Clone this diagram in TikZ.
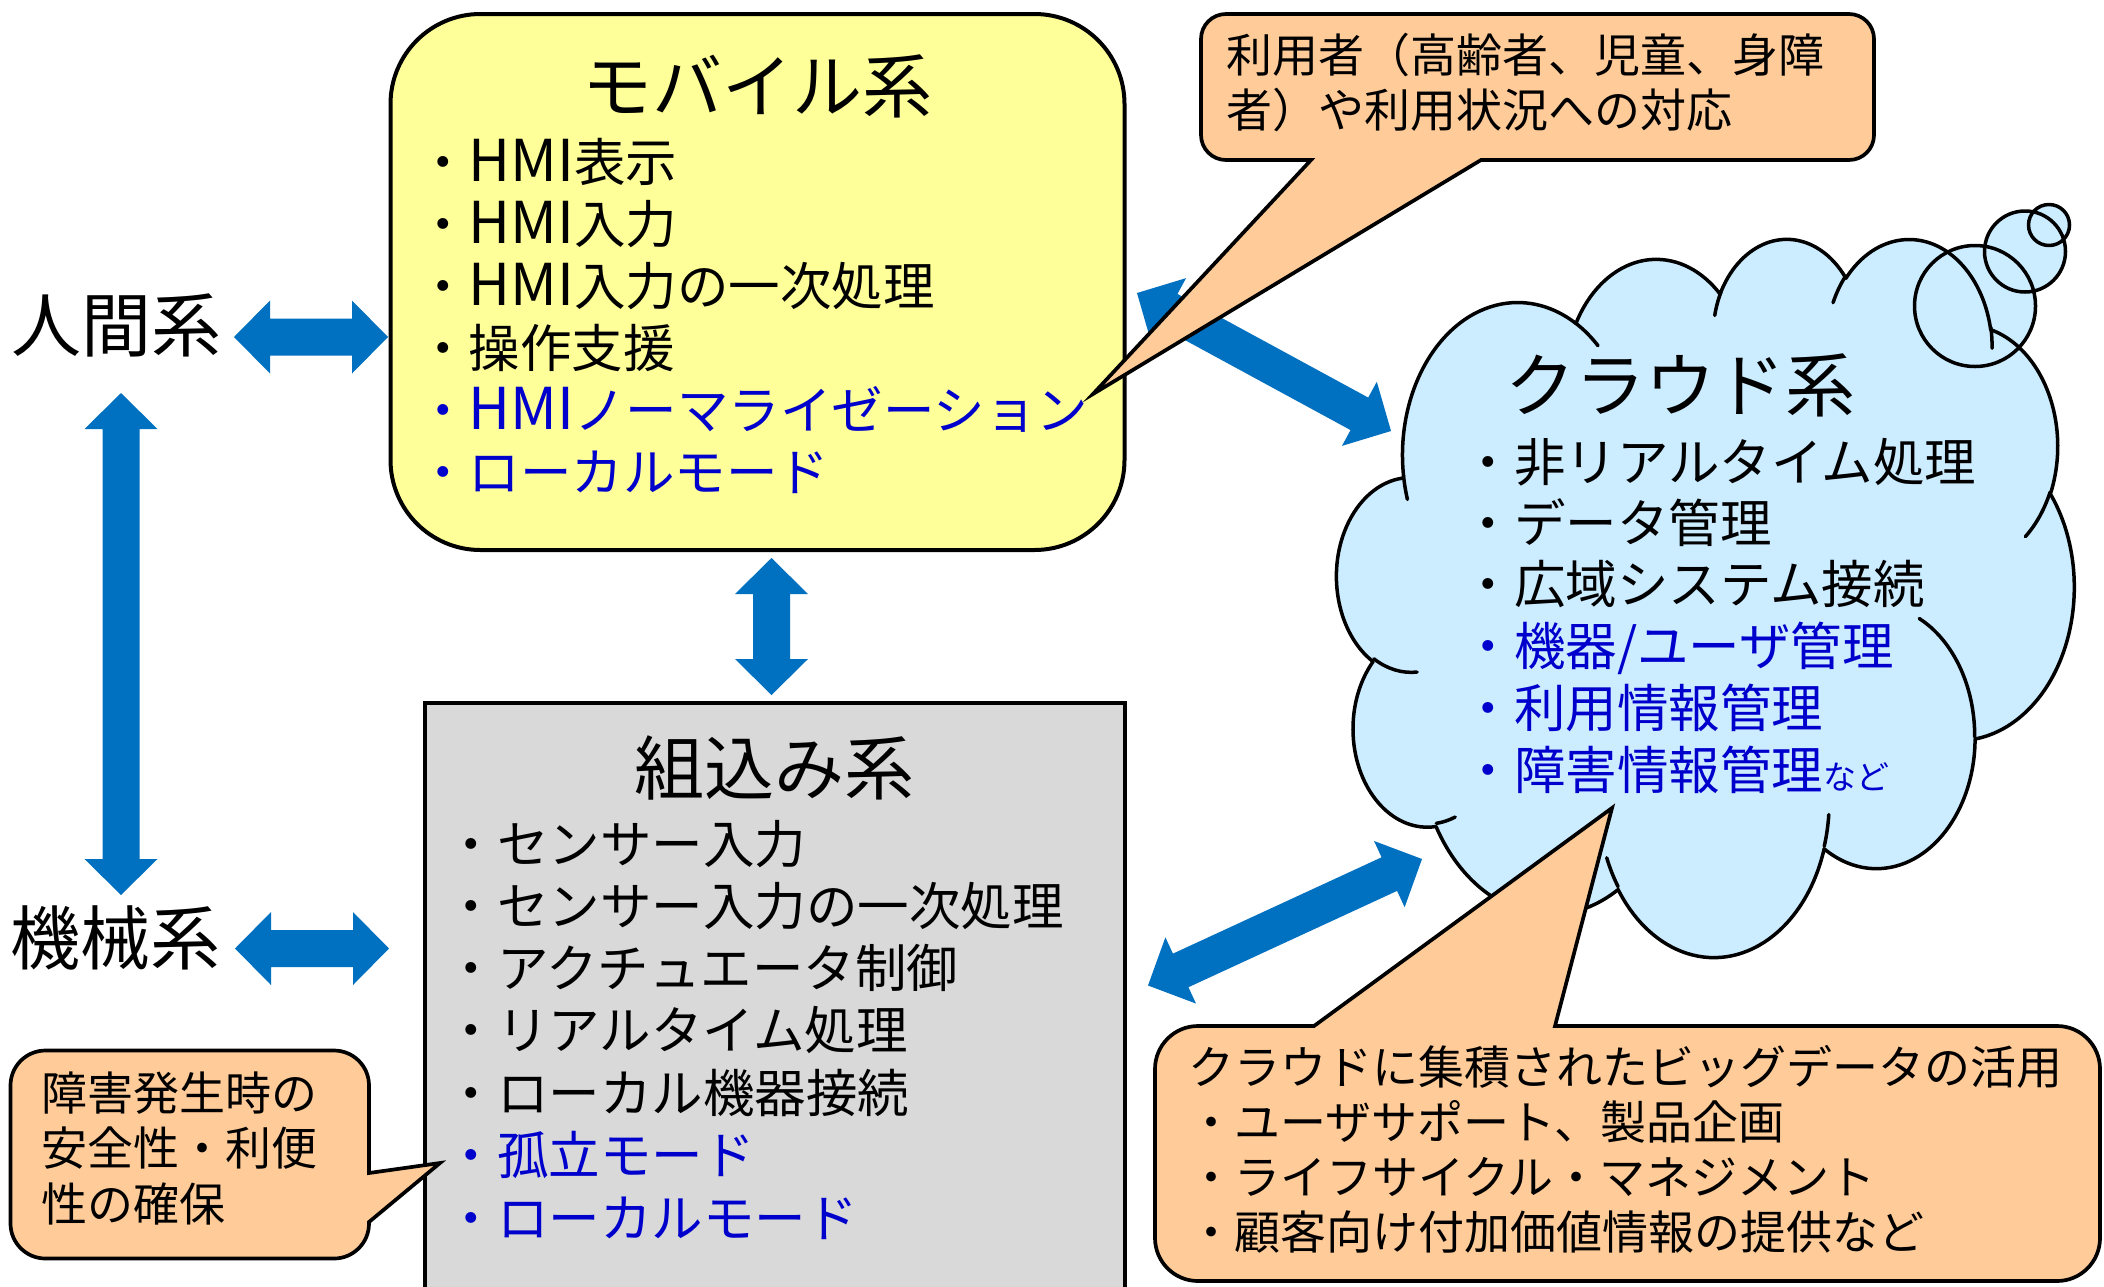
\documentclass[tikz,border=0pt]{standalone}
\usepackage{fontspec}
\usepackage{graphicx}
\setmainfont{Noto Sans CJK JP}
\usetikzlibrary{calc}
\definecolor{arrowblue}{HTML}{0070C0}
\definecolor{txtblue}{HTML}{0000CC}
\definecolor{mobfill}{HTML}{FFFF99}
\definecolor{embfill}{HTML}{D9D9D9}
\definecolor{cloudfill}{HTML}{CCECFF}
\definecolor{callfill}{HTML}{FFCC99}

\newcommand\hmi{\scalebox{1.12}{HMI}}

\newcommand\blockarrow[2]{%
  \fill[arrowblue] (#1)
    -- ($(#1)!36pt!(#2)!36.5pt!90:(#2)$)
    -- ($(#1)!36pt!(#2)!18.5pt!90:(#2)$)
    -- ($(#2)!36pt!(#1)!18.5pt!-90:(#1)$)
    -- ($(#2)!36pt!(#1)!36.5pt!-90:(#1)$)
    -- (#2)
    -- ($(#2)!36pt!(#1)!36.5pt!90:(#1)$)
    -- ($(#2)!36pt!(#1)!18.5pt!90:(#1)$)
    -- ($(#1)!36pt!(#2)!18.5pt!-90:(#2)$)
    -- ($(#1)!36pt!(#2)!36.5pt!-90:(#2)$)
    -- cycle;}

\newcommand\ooprep[5]{%
  \pgfmathsetmacro\ooA{atan2((#2)*sin(#4),(#3)*cos(#4))}%
  \pgfmathsetmacro\ooB{atan2((#2)*sin((#4)+(#5)),(#3)*cos((#4)+(#5)))}%
  \pgfmathsetmacro\ooD{\ooB-\ooA}%
  \pgfmathsetmacro\ooD{ifthenelse(\ooD<0,\ooD+360,\ooD)}%
  \edef\ootmp{\noexpand\tikzset{#1/.style={start angle=\ooA, delta angle=\ooD, x radius=#2, y radius=#3}}}%
  \ootmp}

\begin{document}
\begin{tikzpicture}[x=1pt,y=-1pt,
  boxline/.style={draw=black, line width=4pt},
  item/.style={font=\fontsize{51.5pt}{61pt}\selectfont, inner sep=0pt, anchor=base west},
  ttl/.style={font=\fontsize{70pt}{84pt}\selectfont, inner sep=0pt, anchor=base},
  note/.style={font=\fontsize{46pt}{55pt}\selectfont, inner sep=0pt, anchor=base west},
  callout/.style={draw=black, fill=callfill, line width=3.7pt, line join=miter},
  cloudline/.style={line width=3.5pt, line join=round, line cap=round}]
\clip (0,0) rectangle (2104,1286);
\fill[white] (0,0) rectangle (2104,1286);

% ---------- boxes
\node[boxline, fill=mobfill, rounded corners=90pt, minimum width=734pt, minimum height=536pt, inner sep=0pt] (mob) at (757.5,282) {};
\node[boxline, fill=embfill, minimum width=700pt, minimum height=640pt, inner sep=0pt] (emb) at (774.5,1022.5) {};

% ---------- cloud (cloud callout geometry)
\ooprep{ca}{675.3}{919.0}{-190.48748}{123.78053}
\ooprep{cb}{533.3}{726.7}{-144.10238}{89.94523}
\ooprep{cc}{436.5}{594.5}{-145.80792}{99.72302}
\ooprep{cd}{485.7}{659.5}{-130.98607}{117.24173}
\ooprep{ce}{533.3}{727.3}{-78.70888}{109.02692}
\ooprep{cf}{677.5}{922.0}{-46.26725}{130.269}
\ooprep{cg}{578.5}{786.7}{0.62502}{114.03333}
\ooprep{ch}{675.2}{921.5}{22.4516}{115.17255}
\ooprep{ci}{772.0}{1054.3}{66.24263}{75.71102}
\ooprep{cj}{436.0}{591.8}{-274.94208}{146.73557}
\ooprep{ck}{434.5}{594.5}{-246.8285}{152.51885}
\ooprep{ta}{434.5}{594.5}{86.742}{26.4295}
\ooprep{tb}{436.0}{591.8}{73.6105}{11.4475}
\ooprep{tc}{675.2}{921.5}{137.6242}{14.0811}
\ooprep{td}{675.2}{921.5}{6.4533}{15.9984}
\ooprep{te}{578.5}{786.7}{-70.2924}{70.9174}
\ooprep{tf}{533.3}{727.3}{30.318}{27.7515}
\ooprep{tg}{485.7}{659.5}{-13.7443}{14.8589}
\ooprep{th}{485.7}{659.5}{-149.1815}{18.1954}
\ooprep{ti}{436.5}{594.5}{-163.4943}{17.6864}
\ooprep{tj}{675.3}{919.0}{-66.707}{12.3194}
\ooprep{tk}{675.3}{919.0}{157.6544}{11.8582}

\coordinate (cloud) at (1705,596);
\begin{scope}[shift={(1337,237)}, x=0.17060pt, y=-0.16620pt]
  \fill[cloudfill] (390,1437) arc[ca] arc[cb] arc[cc] arc[cd] arc[ce] arc[cf] arc[cg] arc[ch] arc[ci] arc[cj] arc[ck] -- cycle;
\end{scope}
\fill[cloudfill] (1975,306) circle[radius=60.5] (2025,251.5) circle[radius=40.5] (2049,225) circle[radius=20.5];
\begin{scope}[shift={(1337,237)}, x=0.17060pt, y=-0.16620pt, cloudline]
  \draw (390,1437) arc[ca] arc[cb] arc[cc] arc[cd] arc[ce] arc[cf] arc[cg] arc[ch] arc[ci] arc[cj] arc[ck] -- cycle;
  \draw (469.3,2617.7) arc[ta] (692.8,3489.9) arc[tb] (1647.8,3909.0) arc[tc]
        (2882.7,3475.1) arc[td] (3412.9,2295.4) arc[te] (4179.8,1535.4) arc[tf]
        (3832.4,542.6) arc[tg] (2907.8,395.2) arc[th] (2214.1,472.0) arc[ti]
        (1400.0,519.2) arc[tj] (412.7,1578.9) arc[tk];
\end{scope}
\draw[cloudline] (1975,306) circle[radius=60.5] (2025,251.5) circle[radius=40.5] (2049,225) circle[radius=20.5];

% ---------- block arrows
\coordinate (h1a) at (234,337);    \coordinate (h1b) at (388,337);
\coordinate (h2a) at (235,948.5);  \coordinate (h2b) at (389,948.5);
\coordinate (v1a) at (121,393);    \coordinate (v1b) at (121,895);
\coordinate (v2a) at (771.5,558);  \coordinate (v2b) at (771.5,695);
\coordinate (d1a) at (1137,293);   \coordinate (d1b) at (1391,431);
\coordinate (d2a) at (1148,985.5); \coordinate (d2b) at (1422,859);
\blockarrow{h1a}{h1b}
\blockarrow{h2a}{h2b}
\blockarrow{v1a}{v1b}
\blockarrow{v2a}{v2b}
\blockarrow{d1a}{d1b}
\blockarrow{d2a}{d2b}

% ---------- callouts
\coordinate (tipA) at (1093,394);
\coordinate (tipB) at (1612,808);
\coordinate (tipC) at (440,1163);
\draw[callout] (1226,14) -- (1849,14) arc[start angle=-90, end angle=0, radius=25]
  -- (1874,135) arc[start angle=0, end angle=90, radius=25]
  -- (1481,160) -- (tipA) -- (1311,160) -- (1226,160)
  arc[start angle=90, end angle=180, radius=25]
  -- (1201,39) arc[start angle=180, end angle=270, radius=25] -- cycle;
\draw[callout] (1198,1026) -- (1314,1026) -- (tipB) -- (1555,1026) -- (2057,1026)
  arc[start angle=-90, end angle=0, radius=43]
  -- (2100,1238) arc[start angle=0, end angle=90, radius=43]
  -- (1198,1281) arc[start angle=90, end angle=180, radius=43]
  -- (1155,1069) arc[start angle=180, end angle=270, radius=43] -- cycle;
\draw[callout] (45.5,1050.5) -- (334,1050.5) arc[start angle=-90, end angle=0, radius=35]
  -- (369,1173) -- (tipC) -- (369,1222) -- (369,1223.5)
  arc[start angle=0, end angle=90, radius=35]
  -- (45.5,1258.5) arc[start angle=90, end angle=180, radius=35]
  -- (10.5,1085.5) arc[start angle=180, end angle=270, radius=35] -- cycle;

% ---------- texts
\node[ttl] (ningen) at (116.5,351) {人間系};
\node[ttl] (kikai) at (115.5,964) {機械系};

\node[ttl] (mobt) at (757.5,112) {モバイル系};
\node[item] (m1) at (417,181) {・\hmi 表示};
\node[item] (m2) at (417,243) {・\hmi 入力};
\node[item] (m3) at (417,305) {・\hmi 入力の一次処理};
\node[item] (m4) at (417,367) {・操作支援};
\node[item,text=txtblue] (m5) at (417,429) {・\hmi ノーマライゼーション};
\node[item,text=txtblue] (m6) at (417,491) {・ローカルモード};

\node[ttl] (embt) at (774.5,794) {組込み系};
\node[item] (e1) at (445.5,863) {・センサー入力};
\node[item] (e2) at (445.5,925) {・センサー入力の一次処理};
\node[item] (e3) at (445.5,987) {・アクチュエータ制御};
\node[item] (e4) at (445.5,1049) {・リアルタイム処理};
\node[item] (e5) at (445.5,1112) {・ローカル機器接続};
\node[item,text=txtblue] (e6) at (445.5,1174) {・孤立モード};
\node[item,text=txtblue] (e7) at (445.5,1237) {・ローカルモード};

\node[ttl] (cldt) at (1680,411) {クラウド系};
\node[item] (c1) at (1462.5,481) {・非リアルタイム処理};
\node[item] (c2) at (1462.5,542) {・データ管理};
\node[item] (c3) at (1462.5,603.5) {・広域システム接続};
\node[item,text=txtblue] (c4) at (1462.5,665) {・機器/ユーザ管理};
\node[item,text=txtblue] (c5) at (1462.5,727) {・利用情報管理};
\node[item,text=txtblue] (c6) at (1462.5,789) {・障害情報管理{\fontsize{33pt}{33pt}\selectfont など}};

\node[note] (n1) at (1226,72) {利用者（高齢者、児童、身障};
\node[note] (n2) at (1226,127.5) {者）や利用状況への対応};

\node[note] (b1) at (1188,1084) {クラウドに集積されたビッグデータの活用};
\node[note] (b2) at (1188,1139.5) {・ユーザサポート、製品企画};
\node[note] (b3) at (1188,1194.5) {・ライフサイクル・マネジメント};
\node[note] (b4) at (1188,1249) {・顧客向け付加価値情報の提供など};

\node[note] (l1) at (41,1110.5) {障害発生時の};
\node[note] (l2) at (41,1165.5) {安全性・利便};
\node[note] (l3) at (41,1221) {性の確保};
\end{tikzpicture}
\end{document}
